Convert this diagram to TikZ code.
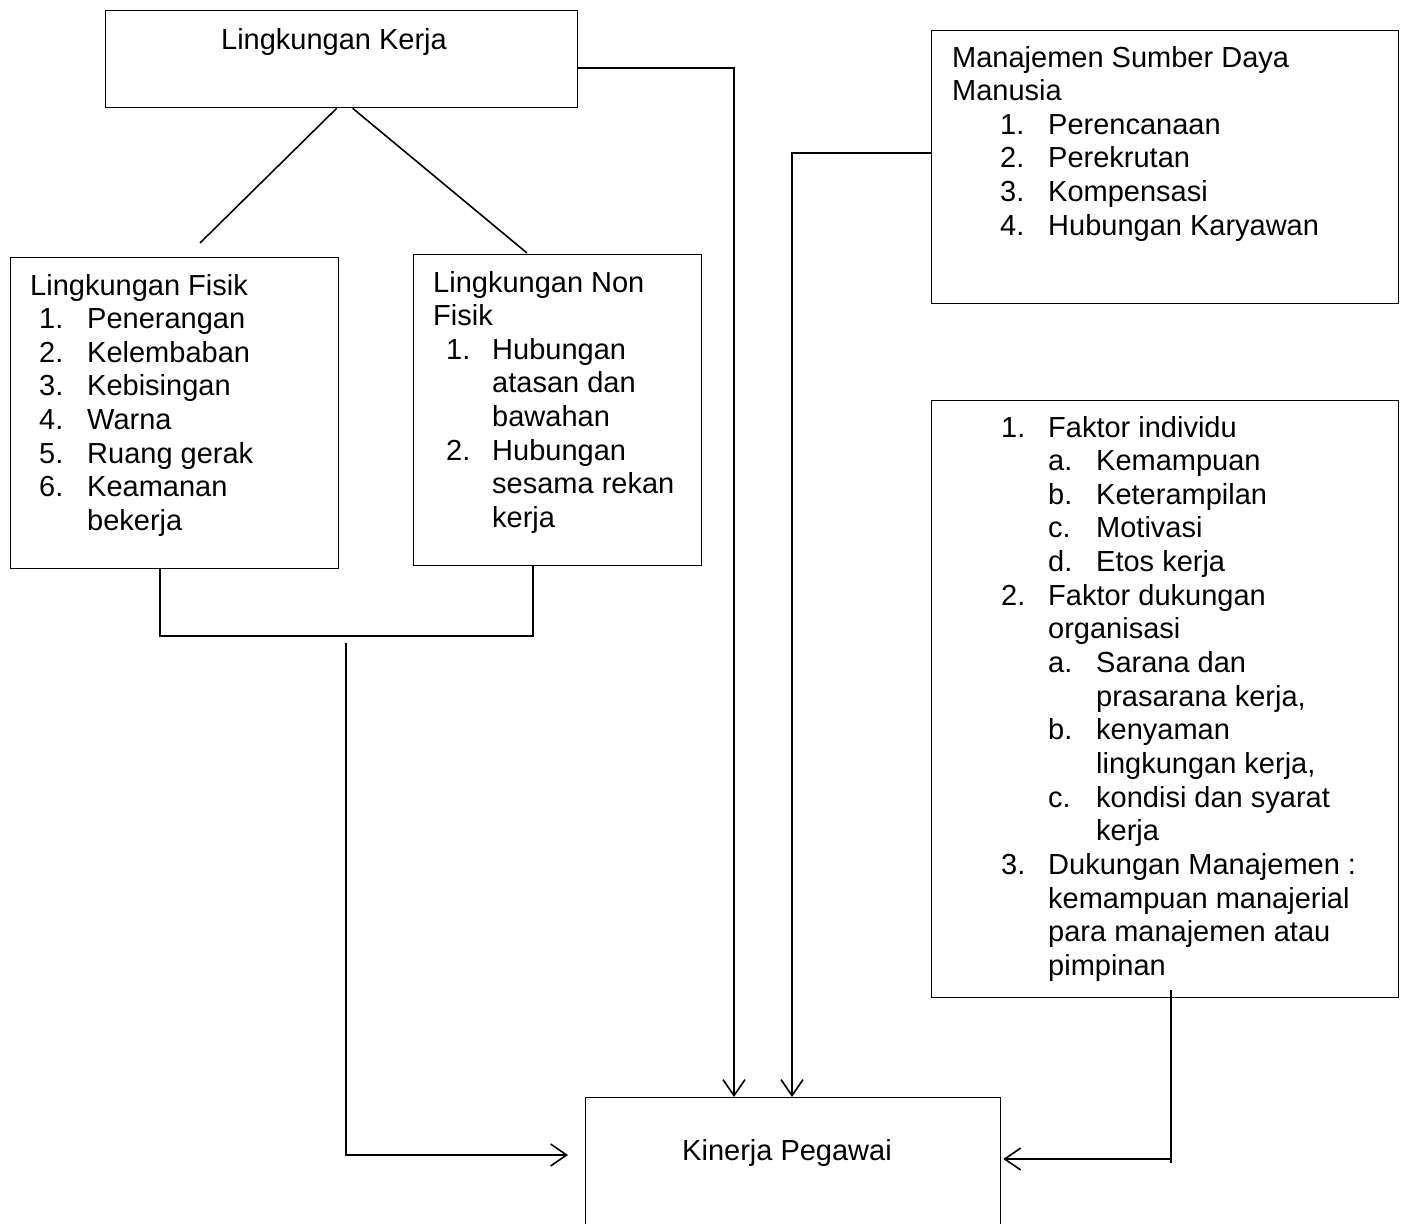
\documentclass[tikz,border=0pt]{standalone}
\usepackage{fontspec}
\setmainfont{Liberation Sans}
\usetikzlibrary{arrows.meta}
\begin{document}
\begin{tikzpicture}[x=1pt,y=-1pt,
  boxst/.style={draw, line width=1.3pt, rectangle, inner sep=0pt, anchor=north west},
  txt/.style={anchor=base west, inner sep=0pt, font=\fontsize{29}{33.6}\selectfont},
  ln/.style={line width=1.6pt},
  arr/.style={line width=1.6pt, -{Straight Barb[length=16pt,width=22pt,line width=1.6pt]}}]
\useasboundingbox (0,0) rectangle (1404,1223);
\clip (0,0) rectangle (1404,1223);
\fill[white] (0,0) rectangle (1404,1223);

% boxes
\node[boxst, minimum width=472pt, minimum height=97pt] (lk) at (105,10) {};
\node[boxst, minimum width=328pt, minimum height=311pt] (fisik) at (10,257) {};
\node[boxst, minimum width=288pt, minimum height=311pt] (nonfisik) at (413,254) {};
\node[boxst, minimum width=467pt, minimum height=273pt] (msdm) at (931,30) {};
\node[boxst, minimum width=467pt, minimum height=597pt] (faktor) at (931,400) {};
\node[boxst, minimum width=415pt, minimum height=160pt] (kp) at (585,1097) {};

% box texts
\node[txt, anchor=base] (lkt) at (334,50) {Lingkungan Kerja};
\node[txt, anchor=base] (kpt) at (787,1160) {Kinerja Pegawai};

% Lingkungan Fisik
\node[txt] (f0) at (30,295) {Lingkungan Fisik};
\node[txt] (f1n) at (39,328.6) {1.};
\node[txt] (f1) at (87,328.6) {Penerangan};
\node[txt] (f2n) at (39,362.2) {2.};
\node[txt] (f2) at (87,362.2) {Kelembaban};
\node[txt] (f3n) at (39,395.8) {3.};
\node[txt] (f3) at (87,395.8) {Kebisingan};
\node[txt] (f4n) at (39,429.4) {4.};
\node[txt] (f4) at (87,429.4) {Warna};
\node[txt] (f5n) at (39,463) {5.};
\node[txt] (f5) at (87,463) {Ruang gerak};
\node[txt] (f6n) at (39,496.6) {6.};
\node[txt] (f6) at (87,496.6) {Keamanan};
\node[txt] (f7) at (87,530.2) {bekerja};

% Lingkungan Non Fisik
\node[txt] (n0) at (433,292) {Lingkungan Non};
\node[txt] (n1) at (433,325.6) {Fisik};
\node[txt] (n2n) at (446,359.2) {1.};
\node[txt] (n2) at (492,359.2) {Hubungan};
\node[txt] (n3) at (492,392.8) {atasan dan};
\node[txt] (n4) at (492,426.4) {bawahan};
\node[txt] (n5n) at (446,460) {2.};
\node[txt] (n5) at (492,460) {Hubungan};
\node[txt] (n6) at (492,493.6) {sesama rekan};
\node[txt] (n7) at (492,527.2) {kerja};

% MSDM
\node[txt] (m0) at (952,67) {Manajemen Sumber Daya};
\node[txt] (m1) at (952,100.6) {Manusia};
\node[txt] (m2n) at (1000,134.2) {1.};
\node[txt] (m2) at (1048,134.2) {Perencanaan};
\node[txt] (m3n) at (1000,167.8) {2.};
\node[txt] (m3) at (1048,167.8) {Perekrutan};
\node[txt] (m4n) at (1000,201.4) {3.};
\node[txt] (m4) at (1048,201.4) {Kompensasi};
\node[txt] (m5n) at (1000,235) {4.};
\node[txt] (m5) at (1048,235) {Hubungan Karyawan};

% Faktor
\node[txt] (k0n) at (1001,437) {1.};
\node[txt] (k0) at (1048,437) {Faktor individu};
\node[txt] (k1n) at (1048,470.65) {a.};
\node[txt] (k1) at (1096,470.65) {Kemampuan};
\node[txt] (k2n) at (1048,504.3) {b.};
\node[txt] (k2) at (1096,504.3) {Keterampilan};
\node[txt] (k3n) at (1048,537.95) {c.};
\node[txt] (k3) at (1096,537.95) {Motivasi};
\node[txt] (k4n) at (1048,571.6) {d.};
\node[txt] (k4) at (1096,571.6) {Etos kerja};
\node[txt] (k5n) at (1001,605.25) {2.};
\node[txt] (k5) at (1048,605.25) {Faktor dukungan};
\node[txt] (k6) at (1048,638.9) {organisasi};
\node[txt] (k7n) at (1048,672.55) {a.};
\node[txt] (k7) at (1096,672.55) {Sarana dan};
\node[txt] (k8) at (1096,706.2) {prasarana kerja,};
\node[txt] (k9n) at (1048,739.85) {b.};
\node[txt] (k9) at (1096,739.85) {kenyaman};
\node[txt] (k10) at (1096,773.5) {lingkungan kerja,};
\node[txt] (k11n) at (1048,807.15) {c.};
\node[txt] (k11) at (1096,807.15) {kondisi dan syarat};
\node[txt] (k12) at (1096,840.8) {kerja};
\node[txt] (k13n) at (1001,874.45) {3.};
\node[txt] (k13) at (1048,874.45) {Dukungan Manajemen :};
\node[txt] (k14) at (1048,908.1) {kemampuan manajerial};
\node[txt] (k15) at (1048,941.75) {para manajemen atau};
\node[txt] (k16) at (1048,975.4) {pimpinan};

% free-end coordinates
\coordinate (lkA) at (200,243);
\coordinate (lkB) at (527,253);
\coordinate (joinTop) at (346,643);
\coordinate (fkTop) at (1171,990);
\coordinate (fkBot) at (1171,1163);

% connectors
\draw[arr] ([yshift=-58pt]lk.north east) -| ([xshift=149pt]kp.north west);
\draw[ln] ([xshift=-5pt]lk.south) -- (lkA);
\draw[ln] ([xshift=11pt]lk.south) -- (lkB);
\draw[ln] (fisik.south west -| 160,0) -- (160,636) -- (533,636) -- (nonfisik.south west -| 533,0);
\draw[arr] (joinTop) |- ([xshift=-17pt]kp.north west |- 0,1155);
\draw[arr] ([yshift=-123pt]msdm.north west) -| ([xshift=207pt]kp.north west);
\draw[ln] (fkTop) -- (fkBot);
\draw[arr] (fkTop |- 0,1159) -- ([xshift=2pt]kp.north east |- 0,1159);
\end{tikzpicture}
\end{document}
